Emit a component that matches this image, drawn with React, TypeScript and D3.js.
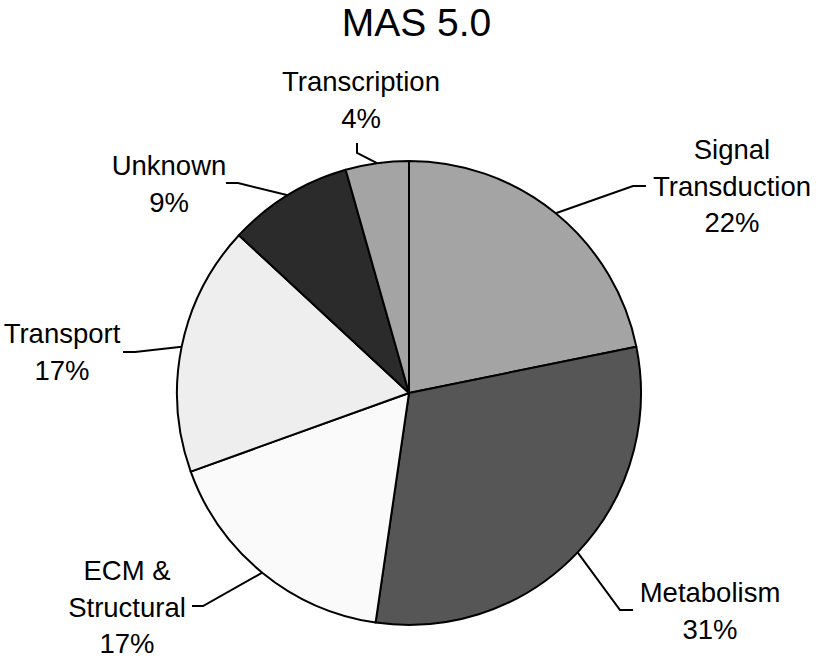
import React from "react";
import * as d3 from "d3";

const categories = ["Signal Transduction", "Metabolism", "ECM & Structural", "Transport", "Unknown", "Transcription"];
const values = [21.8, 30.5, 17.2, 17.4, 8.7, 4.4];
const labelLines = [
  ["Signal", "Transduction", "22%"],
  ["Metabolism", "31%"],
  ["ECM &", "Structural", "17%"],
  ["Transport", "17%"],
  ["Unknown", "9%"],
  ["Transcription", "4%"],
];
const colors = ["#a4a4a4", "#565656", "#fafafa", "#eeeeee", "#2b2b2b", "#a4a4a4"];

// layout: label text center x, first baseline, elbow and end of leader
const layout = [
  { tx: 732, ty: 159, elbow: [633, 186], end: [646, 186] },
  { tx: 710, ty: 602, elbow: [620, 610], end: [633, 610] },
  { tx: 127, ty: 580, elbow: [203, 606], end: [192, 606] },
  { tx: 62, ty: 343, elbow: [135, 352], end: [123, 352] },
  { tx: 169, ty: 175, elbow: [238, 183], end: [226, 183] },
  { tx: 361, ty: 91, elbow: [357, 153], end: [357, 143] },
];

export default function App() {
  const W = 819, H = 663;
  const cx = 409, cy = 393, R = 232;
  const pie = d3.pie<number>().sort(null).value((d) => d)(values);
  const arc = d3.arc<d3.PieArcDatum<number>>().innerRadius(0).outerRadius(R);
  const font = "'Liberation Sans', Arial, sans-serif";
  return (
    <svg width={W} height={H} style={{ position: "absolute", left: 0, top: 0, background: "#fff" }}>
      <text x={416.5} y={36} textAnchor="middle" fontFamily={font} fontSize={39} fill="#000">MAS 5.0</text>
      <g transform={`translate(${cx},${cy})`}>
        {pie.map((p, i) => (
          <path key={categories[i]} d={arc(p) || ""} fill={colors[i]} stroke="#000" strokeWidth={2} strokeLinejoin="round" />
        ))}
      </g>
      {pie.map((p, i) => {
        const mid = (p.startAngle + p.endAngle) / 2;
        const sx = cx + R * Math.sin(mid);
        const sy = cy - R * Math.cos(mid);
        const L = layout[i];
        return (
          <g key={"l" + i}>
            <polyline
              points={`${sx},${sy} ${L.elbow[0]},${L.elbow[1]} ${L.end[0]},${L.end[1]}`}
              fill="none" stroke="#000" strokeWidth={2} />
            <text textAnchor="middle" fontFamily={font} fontSize={27.5} fill="#000">
              {labelLines[i].map((t, j) => (
                <tspan key={j} x={L.tx} y={L.ty + j * 36.5}>{t}</tspan>
              ))}
            </text>
          </g>
        );
      })}
    </svg>
  );
}
